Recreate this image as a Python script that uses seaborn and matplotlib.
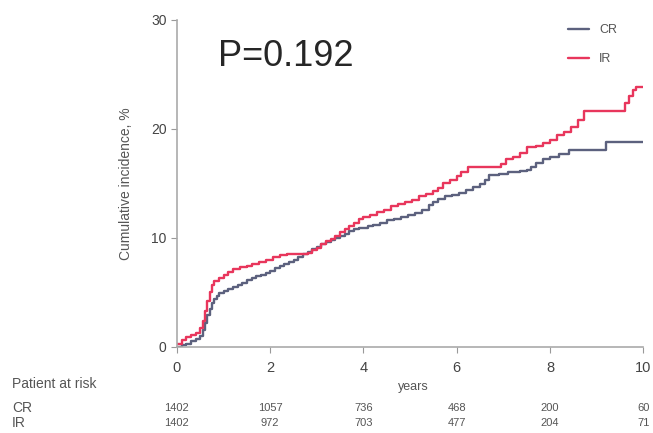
import matplotlib
matplotlib.use("Agg")
import matplotlib.pyplot as plt
import seaborn as sns
import pandas as pd

# step points (years, cumulative incidence %)
cr_years = [0, 0.1, 0.2, 0.3, 0.4, 0.5, 0.55, 0.6, 0.65, 0.7, 0.75, 0.8, 0.85, 0.9, 1.0,
            1.1, 1.2, 1.3, 1.4, 1.5, 1.6, 1.7, 1.8, 1.9, 2.0, 2.1, 2.2, 2.3, 2.4, 2.5,
            2.6, 2.7, 2.8, 2.9, 3.0, 3.1, 3.2, 3.3, 3.4, 3.5, 3.6, 3.7, 3.8, 3.9, 4.1,
            4.2, 4.35, 4.5, 4.65, 4.8, 4.95, 5.1, 5.25, 5.4, 5.5, 5.6, 5.75, 5.9, 6.05,
            6.2, 6.35, 6.5, 6.6, 6.7, 6.9, 7.1, 7.35, 7.5, 7.6, 7.7, 7.85, 8.0, 8.2,
            8.4, 9.2, 10.0]
cr_values = [0, 0.2, 0.3, 0.5, 0.7, 1.0, 1.5, 2.2, 2.9, 3.5, 4.0, 4.4, 4.7, 4.9, 5.1,
             5.3, 5.5, 5.7, 5.9, 6.1, 6.3, 6.5, 6.6, 6.8, 7.0, 7.2, 7.4, 7.6, 7.8, 8.0,
             8.2, 8.5, 8.7, 9.0, 9.2, 9.4, 9.6, 9.8, 10.0, 10.2, 10.4, 10.6, 10.8, 10.9, 11.1,
             11.2, 11.4, 11.6, 11.7, 11.9, 12.1, 12.3, 12.6, 13.0, 13.3, 13.6, 13.8, 13.9, 14.1,
             14.4, 14.7, 14.9, 15.3, 15.8, 15.9, 16.0, 16.1, 16.2, 16.5, 16.9, 17.2, 17.4, 17.7,
             18.1, 18.8, 18.8]

ir_years = [0, 0.1, 0.2, 0.3, 0.4, 0.5, 0.55, 0.6, 0.65, 0.7, 0.75, 0.8, 0.9, 1.0,
            1.1, 1.2, 1.35, 1.5, 1.6, 1.75, 1.9, 2.05, 2.2, 2.35, 2.8, 2.9, 3.0, 3.1,
            3.2, 3.3, 3.4, 3.5, 3.6, 3.7, 3.8, 3.9, 4.0, 4.15, 4.3, 4.45, 4.6, 4.75,
            4.9, 5.05, 5.2, 5.35, 5.5, 5.6, 5.7, 5.85, 6.0, 6.1, 6.25, 6.95, 7.05, 7.2,
            7.35, 7.5, 7.7, 7.85, 8.0, 8.15, 8.3, 8.45, 8.6, 8.72, 9.62, 9.7, 9.78, 9.85,
            10.0]
ir_values = [0.3, 0.6, 0.9, 1.1, 1.3, 1.7, 2.4, 3.3, 4.2, 5.0, 5.7, 6.0, 6.3, 6.6,
             6.9, 7.1, 7.3, 7.4, 7.6, 7.8, 8.0, 8.2, 8.4, 8.5, 8.6, 8.9, 9.1, 9.4,
             9.7, 9.9, 10.2, 10.5, 10.8, 11.1, 11.4, 11.7, 11.9, 12.1, 12.4, 12.6, 12.9, 13.1,
             13.3, 13.5, 13.8, 14.0, 14.3, 14.6, 15.0, 15.3, 15.7, 16.0, 16.5, 16.8, 17.2, 17.4,
             17.8, 18.3, 18.4, 18.7, 19.0, 19.4, 19.7, 20.2, 20.8, 21.6, 22.4, 23.0, 23.6, 23.8,
             23.8]

risk_years = [0, 2, 4, 6, 8, 10]
cr_at_risk = [1402, 1057, 736, 468, 200, 60]
ir_at_risk = [1402, 972, 703, 477, 204, 71]

df = pd.concat([
    pd.DataFrame({"years": cr_years, "inc": cr_values, "group": "CR"}),
    pd.DataFrame({"years": ir_years, "inc": ir_values, "group": "IR"}),
])

sns.set_style("ticks")
plt.rcParams["font.family"] = ["Liberation Sans", "DejaVu Sans"]

txt_col = "#555555"

fig = plt.figure(figsize=(6.53, 4.33), dpi=100)
ax = fig.add_axes([0.271, 0.199, 0.714, 0.755])

sns.lineplot(data=df, x="years", y="inc", hue="group", drawstyle="steps-post",
             palette={"CR": "#5c617e", "IR": "#e8365c"}, linewidth=1.7, ax=ax)

ax.set_xlim(0, 10)
ax.set_ylim(0, 30)
ax.set_xticks(risk_years)
ax.set_yticks([0, 10, 20, 30])
ax.tick_params(axis="x", labelsize=10.5, colors="#999999", labelcolor="#444444", length=4, pad=6)
ax.tick_params(axis="y", labelsize=10, colors="#999999", labelcolor="#444444", length=4)
for s in ["left", "bottom"]:
    ax.spines[s].set_color("#aaaaaa")
    ax.spines[s].set_linewidth(1.2)
sns.despine(ax=ax)

ax.set_xlabel("years", fontsize=9, color=txt_col)
ax.xaxis.set_label_coords(0.506, (347 - 381) / 327)
ax.set_ylabel("Cumulative incidence, %", fontsize=10, color=txt_col)
ax.yaxis.set_label_coords((133 - 177) / 466, 0.5)

leg = ax.legend(loc="upper right", frameon=False, fontsize=9, handlelength=1.7,
                labelspacing=1.4, bbox_to_anchor=(0.968, 1.022))
for t in leg.get_texts():
    t.set_color(txt_col)

ax.text(0.088, 0.887, "P=0.192", transform=ax.transAxes, fontsize=26, va="center")

# number at risk table
fig.text(12 / 653, 1 - 384 / 433, "Patient at risk", fontsize=10, color=txt_col, va="center")
fig.text(12 / 653, 1 - 408 / 433, "CR", fontsize=10, color=txt_col, va="center")
fig.text(12 / 653, 1 - 423 / 433, "IR", fontsize=10, color=txt_col, va="center")
tr = ax.get_xaxis_transform()
for x, a, b in zip(risk_years, cr_at_risk, ir_at_risk):
    ax.text(x, (347 - 408) / 327, str(a), transform=tr, fontsize=8, color=txt_col,
            ha="center", va="center", clip_on=False)
    ax.text(x, (347 - 423) / 327, str(b), transform=tr, fontsize=8, color=txt_col,
            ha="center", va="center", clip_on=False)

fig.savefig("out.png", dpi=100)
